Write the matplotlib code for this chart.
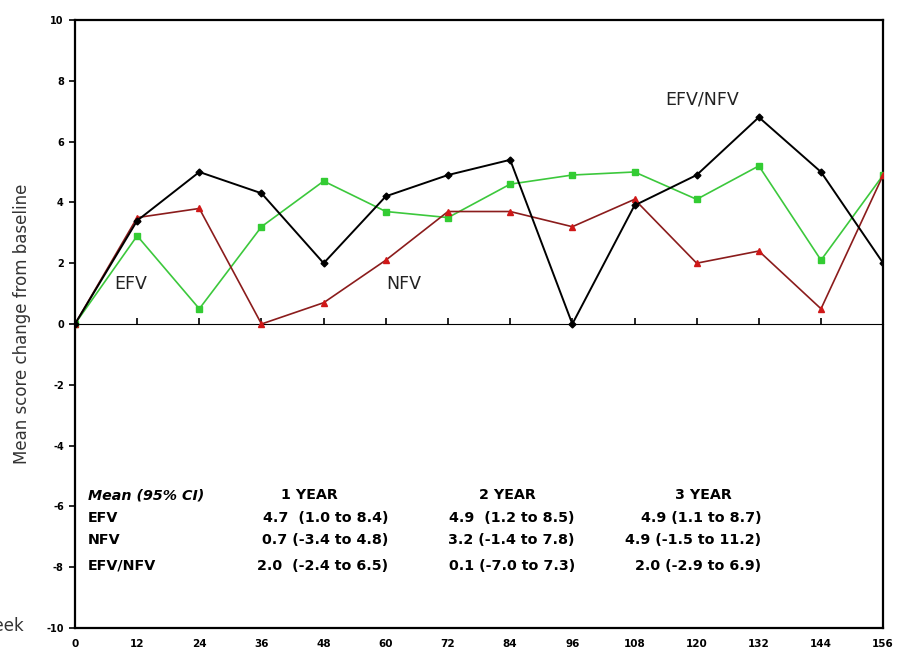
"""Mean score change from baseline by week: EFV, NFV and EFV/NFV arms."""
import matplotlib
matplotlib.use("Agg")
import matplotlib.pyplot as plt

# Data
WEEKS = [0, 12, 24, 36, 48, 60, 72, 84, 96, 108, 120, 132, 144, 156]
EFV = [0, 2.9, 0.5, 3.2, 4.7, 3.7, 3.5, 4.6, 4.9, 5.0, 4.1, 5.2, 2.1, 4.9]
NFV = [0, 3.5, 3.8, 0.0, 0.7, 2.1, 3.7, 3.7, 3.2, 4.1, 2.0, 2.4, 0.5, 4.9]
EFV_NFV = [0, 3.4, 5.0, 4.3, 2.0, 4.2, 4.9, 5.4, 0.0, 3.9, 4.9, 6.8, 5.0, 2.0]
Y_TICKS = [-10, -8, -6, -4, -2, 0, 2, 4, 6, 8, 10]

TABLE_HEADER = ["Mean (95% CI)", "1 YEAR", "2 YEAR", "3 YEAR"]
TABLE_ROWS = ["EFV", "NFV", "EFV/NFV"]
TABLE_VALUES = [
    ["4.7  (1.0 to 8.4)", "4.9  (1.2 to 8.5)", "4.9 (1.1 to 8.7)"],
    ["0.7 (-3.4 to 4.8)", "3.2 (-1.4 to 7.8)", "4.9 (-1.5 to 11.2)"],
    ["2.0  (-2.4 to 6.5)", "0.1 (-7.0 to 7.3)", "2.0 (-2.9 to 6.9)"],
]

fig = plt.figure(figsize=(8.98, 6.55), dpi=100)
ax = fig.add_axes([0.0835, 0.0412, 0.9, 0.9283])

ax.plot(WEEKS, EFV, color="#3cc83c", lw=1.2, marker="s", ms=5,
        mfc="#33cc33", mec="#33cc33", zorder=3)
ax.plot(WEEKS, NFV, color="#8b1c1c", lw=1.2, marker="^", ms=5,
        mfc="#d01818", mec="#d01818", zorder=3)
ax.plot(WEEKS, EFV_NFV, color="black", lw=1.4, marker="D", ms=3.5,
        mfc="black", mec="black", zorder=4)

ax.set_xlim(0, 156)
ax.set_ylim(-10, 10)
ax.set_yticks(Y_TICKS)
ax.set_yticklabels([str(v) for v in Y_TICKS], fontsize=7, fontweight="bold")
ax.set_xticks(WEEKS)
ax.set_xticklabels([str(w) for w in WEEKS], fontsize=7.5, fontweight="bold")
ax.tick_params(axis="x", length=0, pad=8)
ax.tick_params(axis="y", length=4, width=1.2, direction="out", pad=4)
for sp in ax.spines.values():
    sp.set_linewidth(1.6)

# zero line carries the x tick marks
zero_axis = ax.secondary_xaxis(0.5)
zero_axis.set_xticks(WEEKS)
zero_axis.set_xticklabels([])
zero_axis.tick_params(length=4, width=1.2, direction="out")
zero_axis.spines["bottom"].set_linewidth(1.6)

ax.set_ylabel("Mean score change from baseline", fontsize=12, color="#333333",
              labelpad=11)
fig.text(0.027, 0.045, "Week", fontsize=12, color="#333333", ha="right",
         va="center")

# curve labels
ax.text(7.5, 1.3, "EFV", fontsize=12.5, color="#222222", va="center")
ax.text(60, 1.3, "NFV", fontsize=12.5, color="#222222", va="center")
ax.text(114, 7.4, "EFV/NFV", fontsize=12.5, color="#222222", va="center")

# summary table inside the plot
tfont = dict(fontsize=10.3, fontweight="bold", family="DejaVu Sans",
             color="black", va="center")
row_y = [-5.63, -6.38, -7.11, -7.95]
col_x = [45.2, 83.5, 121.3]
ax.text(2.5, row_y[0], TABLE_HEADER[0], style="italic", **tfont)
for j, head in enumerate(TABLE_HEADER[1:]):
    ax.text(col_x[j], row_y[0], head, ha="center", **tfont)
value_x = [60.5, 96.5, 132.5]
for i, name in enumerate(TABLE_ROWS):
    ax.text(2.5, row_y[i + 1], name, **tfont)
    for j, val in enumerate(TABLE_VALUES[i]):
        ax.text(value_x[j], row_y[i + 1], val, ha="right", **tfont)

fig.savefig("out.png", dpi=100)
